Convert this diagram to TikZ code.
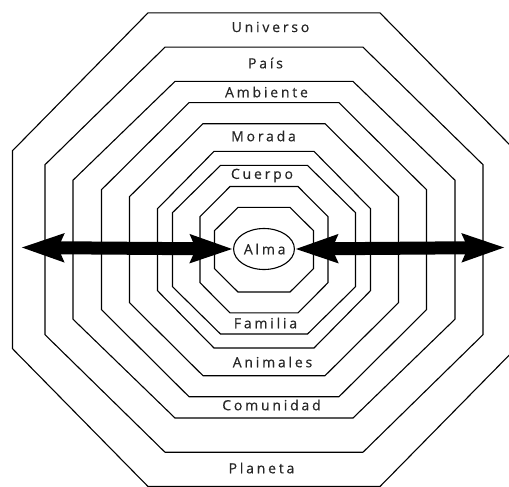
\documentclass[tikz,border=0pt]{standalone}
\usepackage{fontspec}
\setmainfont{Open Sans}[LetterSpace=20,FakeBold=0.4]
\usetikzlibrary{arrows.meta,shapes.geometric}
\newcommand{\octring}[4]{% W H T V
  \draw[ring] (264-#3,249.7-#2) -- (264+#3,249.7-#2) -- (264+#1,249.7-#4) -- (264+#1,249.7+#4)
    -- (264+#3,249.7+#2) -- (264-#3,249.7+#2) -- (264-#1,249.7+#4) -- (264-#1,249.7-#4) -- cycle;}
\begin{document}
\begin{tikzpicture}[x=1pt,y=-1pt,
  ring/.style={draw=black,line width=1.1pt,line join=miter},
  lbl/.style={font=\fontsize{14}{16}\selectfont,inner sep=0pt,text=black!85},
  bigarrow/.style={line width=13pt,{Stealth[length=42pt,width=27pt,inset=5pt]}-{Stealth[length=42pt,width=27pt,inset=5pt]}}]
\useasboundingbox (0,0) rectangle (509,487);
\fill[white] (0,0) rectangle (509,487);
\octring{251.5}{236.8}{116}{99}
\octring{219}{202.5}{99}{85}
\octring{191}{168.3}{89}{69.5}
\octring{162.5}{147}{75}{60}
\octring{134.5}{126}{61}{53}
\octring{106.5}{98.3}{50}{41}
\octring{91.5}{84.3}{43.5}{37}
\octring{64}{63.2}{34}{33}
\octring{49.5}{42.3}{26}{19}
\node[lbl] (universo) at (270.5,27) {Universo};
\node[lbl] (pais) at (265.5,63) {País};
\node[lbl] (ambiente) at (266.5,92) {Ambiente};
\node[lbl] (morada) at (263.5,136) {Morada};
\node[lbl] (cuerpo) at (262,175.5) {Cuerpo};
\node[lbl] (familia) at (265.5,323) {Familia};
\node[lbl] (animales) at (272.5,362) {Animales};
\node[lbl] (comunidad) at (271.5,405) {Comunidad};
\node[lbl] (planeta) at (261.5,468) {Planeta};
\node[draw=black,line width=1.1pt,ellipse,minimum width=57pt,minimum height=41pt,inner sep=0pt,
  font=\fontsize{14}{16}\selectfont,text=black!85] (alma) at (264,249) {\hspace*{1.4pt}Alma};
\coordinate (lend) at (21,247.5);
\coordinate (rend) at (505,247.5);
\draw[bigarrow] (lend) -- (alma.west);
\draw[bigarrow] (alma.east) -- (rend);
\end{tikzpicture}
\end{document}
